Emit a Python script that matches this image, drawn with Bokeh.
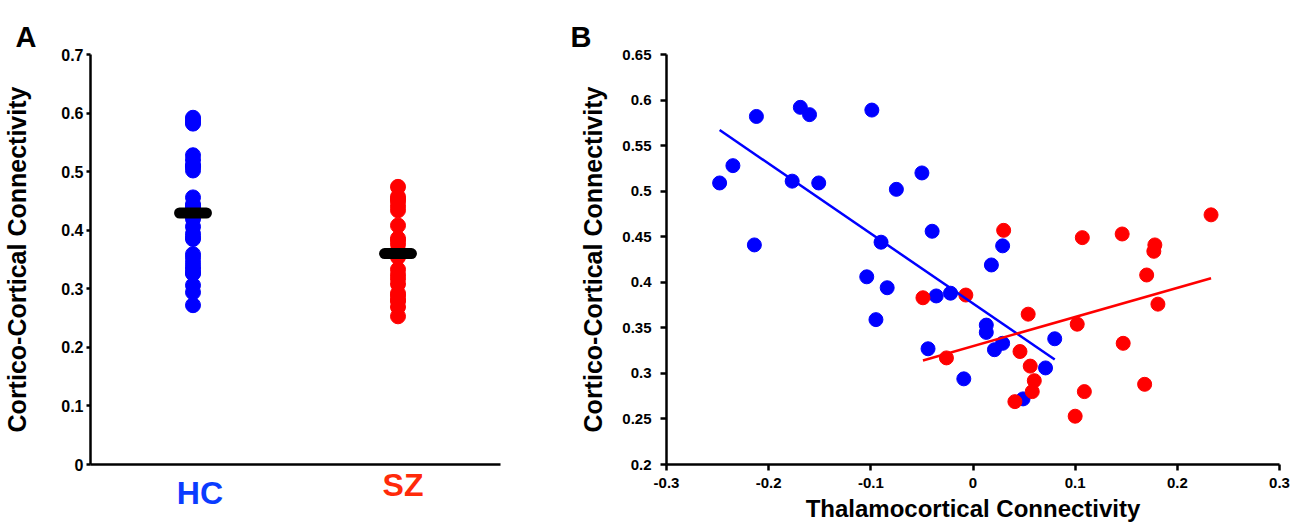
import numpy as np
from bokeh.plotting import figure
from bokeh.layouts import row
from bokeh.models import FixedTicker, LinearAxis
from bokeh.embed import file_html
from bokeh.resources import INLINE

# ---------------- data ----------------
groups = ["HC", "SZ"]
group_pos = [1, 3]

hc_thal = [-0.248, -0.235, -0.212, -0.214, -0.169, -0.160, -0.177, -0.151, -0.099,
           -0.050, -0.075, -0.040, -0.090, -0.104, -0.084, -0.036, -0.022, -0.095,
           0.029, 0.018, 0.013, 0.013, 0.029, 0.021, -0.044, -0.009, 0.080, 0.071, 0.049]
hc_cc = [0.509, 0.528, 0.582, 0.441, 0.592, 0.584, 0.511, 0.509, 0.589,
         0.520, 0.502, 0.456, 0.444, 0.406, 0.394, 0.385, 0.388, 0.359,
         0.440, 0.419, 0.353, 0.345, 0.333, 0.326, 0.327, 0.294, 0.338, 0.306, 0.272]

sz_thal = [0.030, -0.049, -0.007, 0.054, 0.046, -0.026, 0.056, 0.060, 0.058, 0.041,
           0.107, 0.146, 0.178, 0.177, 0.170, 0.181, 0.233, 0.102, 0.147, 0.168,
           0.109, 0.100]
sz_cc = [0.457, 0.383, 0.386, 0.365, 0.324, 0.317, 0.308, 0.292, 0.280, 0.269,
         0.449, 0.453, 0.441, 0.434, 0.408, 0.376, 0.474, 0.354, 0.333, 0.288,
         0.280, 0.253]

a_yticks = [0, 0.1, 0.2, 0.3, 0.4, 0.5, 0.6, 0.7]
a_ytick_labels = ["0", "0.1", "0.2", "0.3", "0.4", "0.5", "0.6", "0.7"]
b_xticks = [-0.3, -0.2, -0.1, 0, 0.1, 0.2, 0.3]
b_xtick_labels = ["-0.3", "-0.2", "-0.1", "0", "0.1", "0.2", "0.3"]
b_yticks = [0.2, 0.25, 0.3, 0.35, 0.4, 0.45, 0.5, 0.55, 0.6, 0.65]
b_ytick_labels = ["0.2", "0.25", "0.3", "0.35", "0.4", "0.45", "0.5", "0.55", "0.6", "0.65"]

ylabel = "Cortico-Cortical Connectivity"
xlabel_b = "Thalamocortical Connectivity"
panel_titles = ["A", "B"]

# ---------------- style ----------------
FONT = "Liberation Sans"
BLUE = "#0000FF"
RED = "#FF0000"
HC_TXT = "#0A3CFF"
SZ_TXT = "#FF2A0A"


def style_axis(ax, tick_out, standoff, tick_size="15px"):
    ax.axis_line_width = 2.5
    ax.axis_line_color = "black"
    ax.major_tick_line_width = 2.5
    ax.major_tick_line_color = "black"
    ax.major_tick_out = tick_out
    ax.major_tick_in = 0
    ax.minor_tick_line_color = None
    ax.major_label_text_font = FONT
    ax.major_label_text_font_style = "bold"
    ax.major_label_text_font_size = tick_size
    ax.major_label_text_color = "black"
    ax.major_label_standoff = standoff
    ax.axis_label_text_font = FONT
    ax.axis_label_text_font_style = "bold"
    ax.axis_label_text_font_size = "25px"
    ax.axis_label_text_color = "black"


def style_title(p, txt, offset):
    p.title.text = txt
    p.title.align = "left"
    p.title.vertical_align = "top"
    p.title.offset = offset
    p.title.standoff = 0
    p.title.text_font = FONT
    p.title.text_font_style = "bold"
    p.title.text_font_size = "29px"
    p.title.text_color = "black"


def style_group_axis(ax, tick, txt, col, standoff):
    ax.ticker = FixedTicker(ticks=[tick])
    ax.major_label_overrides = {tick: txt}
    ax.major_tick_line_color = None
    ax.minor_tick_line_color = None
    ax.major_tick_out = 0
    ax.major_tick_in = 0
    ax.major_label_standoff = standoff
    ax.major_label_text_font = FONT
    ax.major_label_text_font_style = "bold"
    ax.major_label_text_font_size = "32px"
    ax.major_label_text_color = col


# ---------------- panel A ----------------
pa = figure(width=560, height=525, x_range=(0, 4), y_range=(0, 0.7),
            output_backend="svg", toolbar_location=None,
            min_border_left=89, min_border_right=60, min_border_top=54, min_border_bottom=61)
pa.outline_line_color = None
pa.xgrid.visible = False
pa.ygrid.visible = False
style_title(pa, panel_titles[0], -75)

style_axis(pa.yaxis[0], 4, 3, "16px")
pa.yaxis[0].ticker = FixedTicker(ticks=a_yticks)
pa.yaxis[0].major_label_overrides = dict(zip(a_yticks, a_ytick_labels))
pa.yaxis[0].axis_label = ylabel
pa.yaxis[0].axis_label_standoff = 27

# group names as tick labels of two stacked axes (the second pulled up onto the same line)
label_ticks = [group_pos[0] + 7 / 102.75, group_pos[1] + 5 / 102.75]
xa = pa.xaxis[0]
xa.axis_line_width = 2.5
xa.axis_line_color = "black"
style_group_axis(xa, label_ticks[0], groups[0], HC_TXT, 10)
xa2 = LinearAxis(axis_line_color=None)
style_group_axis(xa2, label_ticks[1], groups[1], SZ_TXT, -47)
pa.add_layout(xa2, "below")

pa.scatter([group_pos[0]] * len(hc_cc), hc_cc, size=15, color=BLUE)
pa.scatter([group_pos[1]] * len(sz_cc), sz_cc, size=15, color=RED)

means = [float(np.mean(hc_cc)), float(np.mean(sz_cc))]
half = 0.131
pa.segment(x0=[g - half for g in group_pos], x1=[g + half for g in group_pos],
           y0=means, y1=means, line_width=11, line_color="black", line_cap="round")

# ---------------- panel B ----------------
pb = figure(width=741, height=525, x_range=(-0.3, 0.3), y_range=(0.2, 0.65),
            output_backend="svg", toolbar_location=None,
            min_border_left=106, min_border_right=22, min_border_top=52, min_border_bottom=59)
pb.outline_line_color = None
pb.xgrid.visible = False
pb.ygrid.visible = False
style_title(pb, panel_titles[1], -96)

style_axis(pb.yaxis[0], 6, 9)
pb.yaxis[0].ticker = FixedTicker(ticks=b_yticks)
pb.yaxis[0].major_label_overrides = dict(zip(b_yticks, b_ytick_labels))
pb.yaxis[0].axis_label = ylabel
pb.yaxis[0].axis_label_standoff = 12

style_axis(pb.xaxis[0], 6, 7)
pb.xaxis[0].ticker = FixedTicker(ticks=b_xticks)
pb.xaxis[0].major_label_overrides = dict(zip(b_xticks, b_xtick_labels))
pb.xaxis[0].axis_label = xlabel_b
pb.xaxis[0].axis_label_text_font_size = "24px"
pb.xaxis[0].axis_label_standoff = 4

pb.scatter(hc_thal, hc_cc, size=14, color=BLUE)
pb.scatter(sz_thal, sz_cc, size=14, color=RED)

for xs, ys, col in [(hc_thal, hc_cc, BLUE), (sz_thal, sz_cc, RED)]:
    slope, icpt = np.polyfit(xs, ys, 1)
    lx = [min(xs), max(xs)]
    ly = [slope * v + icpt for v in lx]
    pb.line(lx, ly, line_width=2.5, line_color=col)

layout = row(pa, pb)
open("out.html", "w").write(file_html(layout, INLINE))
